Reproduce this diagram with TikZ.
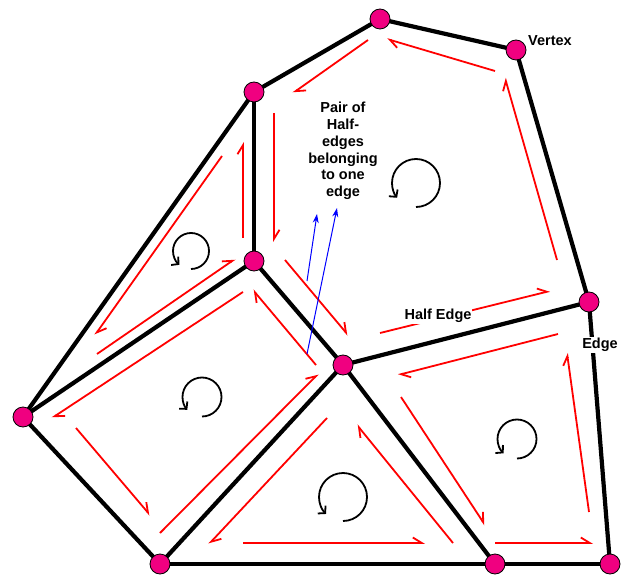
\documentclass[tikz,border=0pt]{standalone}
\usepackage{fontspec}
\setmainfont{Liberation Sans}
\usetikzlibrary{arrows.meta,backgrounds}
\definecolor{vpink}{RGB}{240,0,128}
\definecolor{hered}{RGB}{255,0,0}
\definecolor{pblue}{RGB}{0,0,255}
\tikzset{
  vtx/.style={circle, draw=black, line width=0.8pt, fill=vpink, minimum size=20pt, inner sep=0pt},
  edge/.style={line width=4.2pt, black},
  he/.style={hered, line width=1.8pt, -{Straight Barb[harpoon, length=9pt, width=11pt, line width=1.8pt]}},
  pb/.style={pblue, line width=1pt, -{Stealth[length=9pt, width=6pt]}},
  cyc/.style={black, line width=1.8pt, -{Straight Barb[length=5pt, width=11pt, line width=1.8pt]}},
  lbl/.style={font=\bfseries\fontsize{14.5}{16.7}\selectfont, inner sep=1pt}
}
\begin{document}
\begin{tikzpicture}[x=1pt,y=1pt]
\useasboundingbox (0,0) rectangle (626,-577);
% vertices
\node[vtx] (A) at (380,-19) {};
\node[vtx] (B) at (516,-50) {};
\node[vtx] (C) at (254,-92) {};
\node[vtx] (D) at (254,-261) {};
\node[vtx] (E) at (589,-302) {};
\node[vtx] (F) at (343,-365) {};
\node[vtx] (G) at (23,-417) {};
\node[vtx] (H) at (160,-564) {};
\node[vtx] (I) at (495,-564) {};
\node[vtx] (J) at (610,-564) {};
% edges (behind the vertices)
\begin{scope}[on background layer]
\foreach \u/\v in {A/B,A/C,B/E,C/D,C/G,D/G,D/F,E/F,E/J,F/H,F/I,G/H,H/I,I/J}
  \draw[edge] (\u.center) -- (\v.center);
\end{scope}
% half edges, face 1
\draw[he] (368,-40) -- (293,-93);
\draw[he] (274,-113) -- (274,-242);
\draw[he] (285,-260) -- (348,-335);
\draw[he] (380,-333) -- (550,-291);
\draw[he] (557,-260) -- (505,-78);
\draw[he] (495,-71) -- (387,-39);
% face 2
\draw[he] (243,-238) -- (243,-142);
\draw[he] (222,-156) -- (95,-335);
\draw[he] (97,-354) -- (235,-259);
% face 3
\draw[he] (243,-292) -- (52,-418);
\draw[he] (76,-428) -- (150,-515);
\draw[he] (160,-533) -- (318,-374);
\draw[he] (316,-365) -- (253,-290);
% face 4
\draw[he] (327,-418) -- (209,-544);
\draw[he] (243,-543) -- (425,-543);
\draw[he] (453,-543) -- (357,-425);
% face 5
\draw[he] (401,-397) -- (485,-525);
\draw[he] (495,-543) -- (593,-543);
\draw[he] (589,-512) -- (567,-353);
\draw[he] (558,-334) -- (398,-375);
% face rotation markers
\draw[cyc] (416,-207) arc[start angle=-90, end angle=218, radius=24pt];
\draw[cyc] (191,-269) arc[start angle=-90, end angle=230, radius=18pt];
\draw[cyc] (202,-416.5) arc[start angle=-90, end angle=221, radius=19.5pt];
\draw[cyc] (343,-521) arc[start angle=-90, end angle=225, radius=24pt];
\draw[cyc] (517,-458.5) arc[start angle=-90, end angle=227, radius=19.5pt];
% labels
\node[lbl, align=center] (pair) at (343,-151) {Pair of\\Half-\\edges\\belonging\\to one\\edge};
\node[lbl, fill=white] (half) at (438,-316) {Half Edge};
\node[lbl, anchor=west] (vlbl) at (527,-41) {Vertex};
\node[lbl, fill=white] (elbl) at (600,-345) {Edge};
% blue pointers
\coordinate (p1) at (307,-281);
\coordinate (p2) at (307,-354);
\draw[pb] (p1) -- (317,-214);
\draw[pb] (p2) -- (337,-208);
\end{tikzpicture}
\end{document}
